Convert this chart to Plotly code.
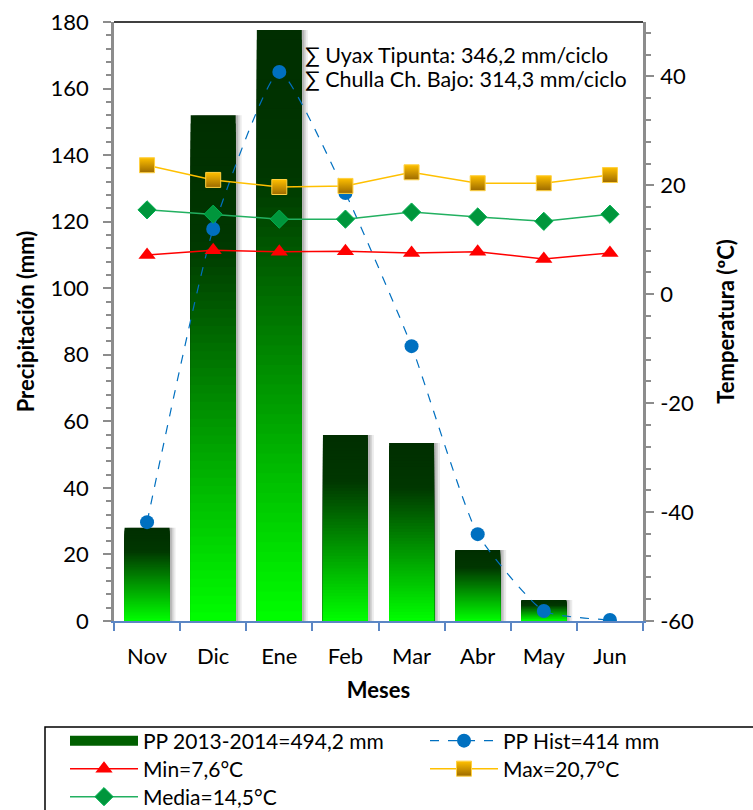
import plotly.graph_objects as go

months = ["Nov", "Dic", "Ene", "Feb", "Mar", "Abr", "May", "Jun"]
pp_2013_2014 = [28.0, 152.0, 177.6, 55.9, 53.5, 21.3, 6.3, 0.0]
pp_hist = [29.7, 117.8, 165.0, 128.6, 82.6, 26.1, 3.0, 0.3]
t_min = [7.2, 8.1, 7.8, 7.9, 7.6, 7.8, 6.5, 7.6]
t_max = [23.7, 21.0, 19.7, 19.9, 22.4, 20.4, 20.4, 21.9]
t_media = [15.5, 14.7, 13.8, 13.8, 15.1, 14.2, 13.4, 14.7]
temp_tick_vals = [-60, -40, -20, 0, 20, 40]
temp_tick_text = ["-60", "-40", "-20", "0", "20", "40"]

FONT = "Lato"
N_SEG = 60
BAR_W = 0.68

# plot-area geometry in pixels (used to place legends / box)
PL, PR, PT, PB = 114, 643, 22, 621
PW, PH = PR - PL, PB - PT


def px_x(x):
    return (x - PL) / PW


def px_y(y):
    return (PB - y) / PH


def green_at(t):
    # t: 0 = bottom of bar, 1 = top of bar
    if t <= 0.75:
        g = 255 - (255 - 55) * (t / 0.75)
    else:
        g = 55 - (55 - 46) * ((t - 0.75) / 0.25)
    return f"rgb(0,{int(round(g))},0)"


fig = go.Figure()

# soft drop shadow of bars
for dx, a in [(0.09, 0.10), (0.06, 0.14), (0.035, 0.18)]:
    fig.add_trace(go.Bar(
        x=months, y=pp_2013_2014, width=BAR_W, offset=-BAR_W / 2 + dx,
        marker=dict(color=f"rgba(60,60,60,{a})", line=dict(width=0)),
        showlegend=False, hoverinfo="skip",
    ))

# gradient bars: overlapping bars from the top colour down to the bottom colour
for k in range(N_SEG - 1, -1, -1):
    top = [v * (k + 1) / N_SEG for v in pp_2013_2014]
    fig.add_trace(go.Bar(
        x=months, y=top, width=BAR_W,
        marker=dict(color=green_at((k + 0.5) / N_SEG), line=dict(width=0)),
        name="PP 2013-2014=494,2 mm",
        showlegend=False,
        hovertemplate="%{x}: " + "%{customdata} mm<extra></extra>",
        customdata=pp_2013_2014,
    ))

# legend entry for bars
fig.add_trace(go.Scatter(
    x=[months[0]], y=[None], mode="lines",
    line=dict(color="rgb(0,95,0)", width=16),
    name="PP 2013-2014=494,2 mm", showlegend=True, legend="legend",
))

fig.add_trace(go.Scatter(
    x=months, y=pp_hist, mode="lines+markers", name="PP Hist=414 mm",
    line=dict(color="#0070C0", width=1.2, dash="dash", shape="spline", smoothing=0.5),
    marker=dict(symbol="circle", size=14, color="#0070C0"),
    legend="legend2",
))

fig.add_trace(go.Scatter(
    x=months, y=t_min, mode="lines+markers", name="Min=7,6°C", yaxis="y2",
    line=dict(color="#FF0000", width=1.5),
    marker=dict(symbol="triangle-up", size=15, color="#FF0000"),
    legend="legend3",
))

fig.add_trace(go.Scatter(
    x=months, y=t_max, mode="lines+markers", name="Max=20,7°C", yaxis="y2",
    line=dict(color="#FFC000", width=1.5),
    marker=dict(symbol="square", size=15, color="#FFC000",
                gradient=dict(type="vertical", color="#9C6A00"),
                line=dict(color="#FFD040", width=1)),
    legend="legend4",
))

fig.add_trace(go.Scatter(
    x=months, y=t_media, mode="lines+markers", name="Media=14,5°C", yaxis="y2",
    line=dict(color="#22B060", width=1.5),
    marker=dict(symbol="diamond", size=14, color="#00963C",
                line=dict(color="#00B050", width=1)),
    legend="legend5",
))


def leg(xpx, ypx):
    return dict(
        x=px_x(xpx), xanchor="left", y=px_y(ypx), yanchor="middle",
        bgcolor="rgba(0,0,0,0)", borderwidth=0,
        font=dict(family=FONT, size=21, color="black"), itemwidth=68,
    )


COL1, COL2 = 65, 425
ROW1, ROW2, ROW3 = 741, 769, 797

fig.update_layout(
    width=753, height=810,
    margin=dict(l=PL, r=753 - PR, t=PT, b=810 - PB, autoexpand=False),
    paper_bgcolor="white", plot_bgcolor="white",
    barmode="overlay",
    font=dict(family=FONT, size=22, color="black"),
    xaxis=dict(
        type="category", categoryorder="array", categoryarray=months,
        range=[-0.5, 7.5],
        showline=True, linecolor="#5B86C4", linewidth=2,
        ticks="outside", tickson="boundaries", ticklen=8, tickcolor="#5B86C4", tickwidth=1.5,
        showgrid=False, zeroline=False,
        tickfont=dict(family=FONT, size=22), ticklabelstandoff=15,
        title=dict(text="<b>Meses</b>", font=dict(family=FONT, size=22), standoff=14),
    ),
    yaxis=dict(
        range=[0, 180], dtick=20, tick0=0,
        showline=True, linecolor="#8C8C8C", linewidth=2.5,
        ticks="outside", ticklen=8, tickcolor="#8C8C8C", tickwidth=1.5,
        minor=dict(ticks="outside", ticklen=5, dtick=4, tickcolor="#8C8C8C", tickwidth=1.5),
        showgrid=False, zeroline=False,
        tickfont=dict(family=FONT, size=22), ticklabelstandoff=10,
        title=dict(text="<b>Precipitación (mm)</b>", font=dict(family=FONT, size=22), standoff=10),
    ),
    yaxis2=dict(
        range=[-60, 50], tickmode="array", tickvals=temp_tick_vals, ticktext=temp_tick_text,
        overlaying="y", side="right",
        showline=True, linecolor="#8C8C8C", linewidth=2.5,
        ticks="outside", ticklen=8, tickcolor="#8C8C8C", tickwidth=1.5,
        minor=dict(ticks="outside", ticklen=5, dtick=4, tick0=-60, tickcolor="#8C8C8C", tickwidth=1.5),
        showgrid=False, zeroline=False,
        tickfont=dict(family=FONT, size=22), ticklabelstandoff=2,
        title=dict(text="<b>Temperatura (ºC)</b>", font=dict(family=FONT, size=22), standoff=26),
    ),
    legend=leg(COL1, ROW1),
    legend2=leg(COL2, ROW1),
    legend3=leg(COL1, ROW2),
    legend4=leg(COL2, ROW2),
    legend5=leg(COL1, ROW3),
    shapes=[
        dict(type="line", xref="paper", yref="paper", x0=0, x1=1, y0=1, y1=1,
             line=dict(color="black", width=1.5)),
        dict(type="rect", xref="paper", yref="paper",
             x0=px_x(45), x1=px_x(820), y0=px_y(727), y1=px_y(900),
             line=dict(color="black", width=1.5), fillcolor="rgba(0,0,0,0)"),
    ],
    annotations=[
        dict(xref="paper", yref="paper", x=px_x(303), y=px_y(55), xanchor="left", yanchor="middle",
             showarrow=False, text="∑ Uyax Tipunta: 346,2 mm/ciclo",
             font=dict(family=FONT, size=21.5, color="black")),
        dict(xref="paper", yref="paper", x=px_x(303), y=px_y(79), xanchor="left", yanchor="middle",
             showarrow=False, text="∑ Chulla Ch. Bajo: 314,3 mm/ciclo",
             font=dict(family=FONT, size=21.5, color="black")),
    ],
)

fig.write_html("out.html")
